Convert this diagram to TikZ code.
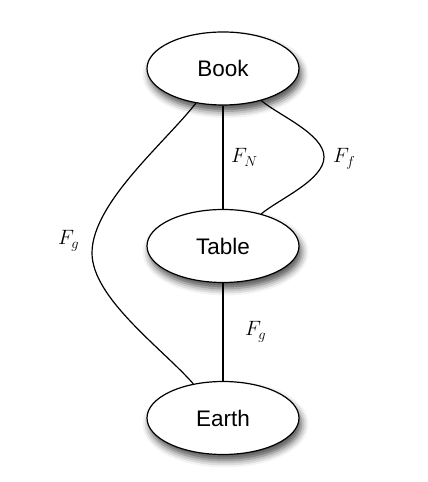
\documentclass[tikz,border=0pt]{standalone}
\usepackage{fontspec}
\setsansfont{Liberation Sans}
\usetikzlibrary{shapes.geometric,shadows.blur}
\tikzset{
  body/.style={ellipse, draw=black, line width=1.2pt, fill=white, inner sep=0pt,
    minimum width=152pt, minimum height=73pt,
    font=\sffamily\fontsize{22.5}{26}\selectfont,
    blur shadow={shadow xshift=2.5pt, shadow yshift=-6pt, shadow blur radius=7pt, shadow opacity=70}},
  force/.style={line width=1.2pt, draw=black},
  lab/.style={anchor=base west, inner sep=0pt, font=\fontsize{21}{24}\selectfont}
}
\begin{document}
\begin{tikzpicture}[x=1pt,y=1pt]
\useasboundingbox (0,0) rectangle (428,482);
\node[body] (book)  at (223,413.5) {Book};
\node[body] (table) at (223,236) {Table};
\node[body] (earth) at (223,64) {Earth};
\coordinate (lp) at (92,229);
\coordinate (rp) at (324,325);
\draw[force] (book) -- (table);
\draw[force] (table) -- (earth);
\draw[force] (book) to[out=232,in=90,looseness=0.7] (lp) to[out=270,in=131,looseness=0.7] (earth);
\draw[force] (book) to[out=320,in=90,looseness=0.7] (rp) to[out=270,in=40,looseness=0.7] (table);
\node[lab] (fn) at (231,319) {$F_N$};
\node[lab] (ff) at (333,319) {$F_f$};
\node[lab] (fg1) at (58,237) {$F_g$};
\node[lab] (fg2) at (245,146) {$F_g$};
\end{tikzpicture}
\end{document}
